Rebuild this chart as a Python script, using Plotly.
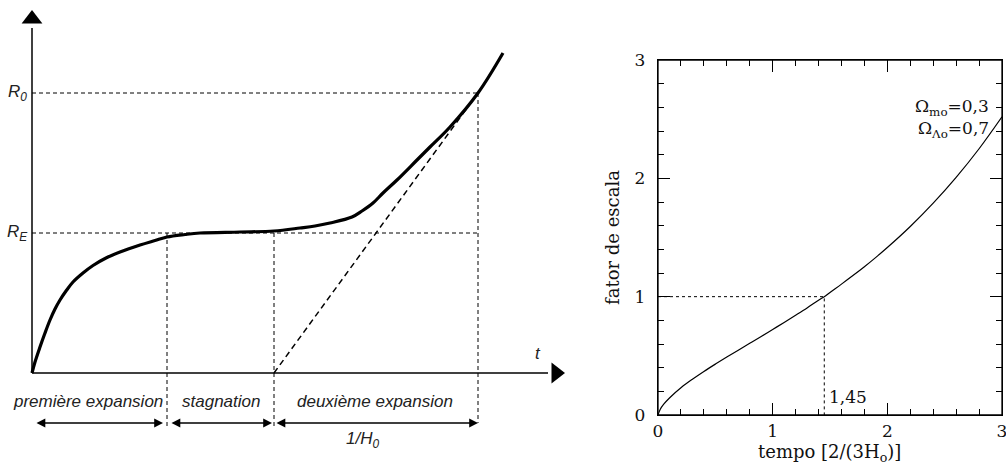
import plotly.graph_objects as go

# ---------------- left schematic (arbitrary units) ----------------
sch_t = [0, .03, .08, .13, .18, .23, .28, .34, .41, .51, .61, .74, .88, 1.08, 1.23, 1.35,
         1.53, 1.68, 2.08, 2.42, 2.68, 2.83, 2.98, 3.20, 3.30, 3.41, 3.51, 3.65, 3.85,
         3.98, 4.18, 4.46, 4.71]
sch_R = [0, .11, .26, .40, .53, .64, .73, .82, .91, 1.00, 1.075, 1.15, 1.21, 1.28, 1.325, 1.36,
         1.385, 1.40, 1.41, 1.42, 1.45, 1.47, 1.50, 1.56, 1.62, 1.70, 1.80, 1.93, 2.13,
         2.26, 2.46, 2.80, 3.20]
T_marks = [1.35, 2.42, 4.46]          # end of 1st expansion, end of stagnation, today
R_marks = [1.40, 2.80]                # R_E, R_0
R_labels = ["R<sub>E</sub>", "R<sub>0</sub>"]
phase_labels = ["première expansion", "stagnation", "deuxième expansion"]
phase_centers = [0.56, 1.89, 3.43]
arrow_spans = [(0.03, 1.31), (1.38, 2.40), (2.43, 4.46)]
ARROW_Y = -0.50
X_AX_END, Y_AX_END = 5.16, 3.45

# ---------------- right plot ----------------
tempo = [0, 0.02, 0.05, 0.1, 0.2, 0.3, 0.4, 0.5, 0.6, 0.7, 0.8, 0.9, 1.0, 1.1, 1.2, 1.3,
         1.4, 1.45, 1.5, 1.6, 1.7, 1.8, 1.9, 2.0, 2.2, 2.4, 2.6, 2.8, 3.0]
fator = [0, 0.049, 0.091, 0.144, 0.230, 0.302, 0.368, 0.430, 0.490, 0.548, 0.606, 0.664,
         0.723, 0.782, 0.843, 0.905, 0.970, 1.0, 1.036, 1.106, 1.178, 1.253, 1.332, 1.415,
         1.593, 1.790, 2.008, 2.250, 2.520]
t_today, a_today = 1.45, 1.0
t_label = "1,45"
major_ticks = [0, 1, 2, 3]

fig = go.Figure()
BLK = "black"

# left: curve
fig.add_trace(go.Scatter(x=sch_t, y=sch_R, mode="lines", line=dict(color=BLK, width=3.2, shape="spline"),
                         xaxis="x", yaxis="y", hoverinfo="skip"))
fig.add_trace(go.Scatter(x=[T_marks[1], T_marks[2]], y=[0, R_marks[1]], mode="lines",
                         line=dict(color=BLK, width=1.5, dash="6px,4px"), xaxis="x", yaxis="y", hoverinfo="skip"))
fig.add_trace(go.Scatter(x=[0, 0], y=[0, Y_AX_END], mode="lines", line=dict(color=BLK, width=1.5),
                         xaxis="x", yaxis="y", hoverinfo="skip"))
fig.add_trace(go.Scatter(x=[0, X_AX_END], y=[0, 0], mode="lines", line=dict(color=BLK, width=1.5),
                         xaxis="x", yaxis="y", hoverinfo="skip"))
fig.add_trace(go.Scatter(x=[0], y=[Y_AX_END + 0.09], mode="markers",
                         marker=dict(symbol="triangle-up", size=18, color=BLK), xaxis="x", yaxis="y", hoverinfo="skip"))
fig.add_trace(go.Scatter(x=[X_AX_END + 0.08], y=[0], mode="markers",
                         marker=dict(symbol="triangle-right", size=18, color=BLK), xaxis="x", yaxis="y", hoverinfo="skip"))

dash_line = dict(color=BLK, width=1, dash="4px,3px")
for r in R_marks:
    fig.add_shape(type="line", xref="x", yref="y", x0=0, x1=T_marks[2], y0=r, y1=r, line=dash_line)
fig.add_shape(type="line", xref="x", yref="y", x0=T_marks[0], x1=T_marks[0], y0=R_marks[0], y1=ARROW_Y - 0.05, line=dash_line)
fig.add_shape(type="line", xref="x", yref="y", x0=T_marks[1], x1=T_marks[1], y0=R_marks[0], y1=ARROW_Y - 0.05, line=dash_line)
fig.add_shape(type="line", xref="x", yref="y", x0=T_marks[2], x1=T_marks[2], y0=R_marks[1], y1=ARROW_Y, line=dash_line)

ital = dict(family="Liberation Sans, Arial", size=17, color="#222")
for r, lab in zip(R_marks, R_labels):
    fig.add_annotation(x=-0.15, y=r, xref="x", yref="y", text=f"<i>{lab}</i>", showarrow=False, font=ital)
fig.add_annotation(x=5.06, y=0.20, xref="x", yref="y", text="<i>t</i>", showarrow=False, font=ital)
for c, lab in zip(phase_centers, phase_labels):
    fig.add_annotation(x=c, y=-0.28, xref="x", yref="y", text=f"<i>{lab}</i>", showarrow=False, font=ital)
fig.add_annotation(x=3.30, y=-0.67, xref="x", yref="y", text="<i>1/H<sub>0</sub></i>", showarrow=False, font=ital)
for a, b in arrow_spans:
    fig.add_annotation(x=b, y=ARROW_Y, ax=a, ay=ARROW_Y, xref="x", yref="y", axref="x", ayref="y",
                       text="", showarrow=True, arrowhead=2, arrowside="end+start", arrowsize=1.1,
                       arrowwidth=1.6, arrowcolor=BLK, standoff=0, startstandoff=0)

# right plot
fig.add_trace(go.Scatter(x=[0, t_today, t_today], y=[a_today, a_today, 0], mode="lines",
                         line=dict(color=BLK, width=1, dash="dot"), xaxis="x2", yaxis="y2", hoverinfo="skip"))
fig.add_trace(go.Scatter(x=tempo, y=fator, mode="lines", line=dict(color=BLK, width=1.2, shape="spline"),
                         xaxis="x2", yaxis="y2", hoverinfo="skip"))

serif = dict(family="DejaVu Serif", size=17, color="#111")
fig.add_annotation(x=t_today + 0.02, y=0.15, xref="x2", yref="y2", text=t_label, showarrow=False,
                   xanchor="left", font=serif)
fig.add_annotation(x=2.90, y=2.60, xref="x2", yref="y2", text="Ω<sub>mo</sub>=0,3", showarrow=False,
                   xanchor="right", font=serif)
fig.add_annotation(x=2.90, y=2.41, xref="x2", yref="y2", text="Ω<sub>Λo</sub>=0,7", showarrow=False,
                   xanchor="right", font=serif)
title_font = dict(family="DejaVu Serif", size=18, color="#111")
fig.add_annotation(x=829 / 1006, y=1 - 453 / 466, xref="paper", yref="paper", text="tempo [2/(3H<sub>o</sub>)]",
                   showarrow=False, xanchor="center", yanchor="middle", font=title_font)
fig.add_annotation(x=612 / 1006, y=1 - 238 / 466, xref="paper", yref="paper", text="fator de escala",
                   showarrow=False, xanchor="center", yanchor="middle", textangle=-90, font=title_font)
fig.add_shape(type="rect", xref="x2 domain", yref="y2 domain", x0=0, x1=1, y0=0, y1=1,
              line=dict(color=BLK, width=1.3))

hidden = dict(visible=False, showgrid=False, zeroline=False)
XD = [658 / 1006, 1002 / 1006]
YD = [51 / 466, 406 / 466]
axis_common = dict(range=[0, 3], showline=True, linecolor=BLK, linewidth=1.3, mirror="ticks",
                   ticks="inside", ticklen=12, tickwidth=1.4, tickcolor=BLK, tickvals=major_ticks,
                   showgrid=False, zeroline=False, tickfont=serif, automargin=False,
                   ticklabeloverflow="allow",
                   minor=dict(ticks="inside", ticklen=6, tickwidth=1.4, dtick=0.2, tick0=0,
                              tickcolor=BLK, showgrid=False))
fig.update_layout(
    width=1006, height=466, margin=dict(l=0, r=0, t=0, b=0, pad=0),
    paper_bgcolor="white", plot_bgcolor="white", showlegend=False,
    xaxis=dict(domain=[0, 600 / 1006], range=[-0.32, 5.68], **hidden),
    yaxis=dict(domain=[0, 1], range=[-0.93, 3.73], **hidden),
    xaxis2=dict(domain=XD, anchor="y2", **axis_common),
    yaxis2=dict(domain=YD, anchor="x2", ticklabelstandoff=8, **axis_common),
)
fig.write_html("out.html", config={"displayModeBar": False},
               post_script="document.body.style.margin='0px';document.body.style.overflow='hidden';")
